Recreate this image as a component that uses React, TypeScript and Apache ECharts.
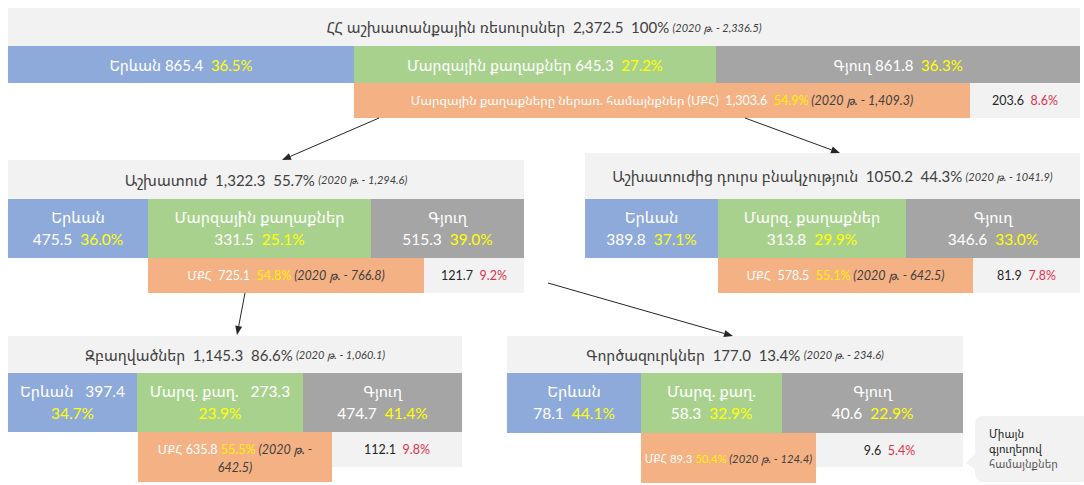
import React, { useEffect, useRef } from "react";
import * as echarts from "echarts";

// ---------- DATA ----------
const groupNames = [
  "ՀՀ աշխատանքային ռեսուրսներ",
  "Աշխատուժ",
  "Աշխատուժից դուրս բնակչություն",
  "Զբաղվածներ",
  "Գործազուրկներ",
];
const totals = [2372.5, 1322.3, 1050.2, 1145.3, 177.0];
const totalShares = [100, 55.7, 44.3, 86.6, 13.4];
const totals2020 = [2336.5, 1294.6, 1041.9, 1060.1, 234.6];
const useThousandsSep = [true, true, false, true, true];

const yerevanLabels = ["Երևան", "Երևան", "Երևան", "Երևան", "Երևան"];
const yerevan = [865.4, 475.5, 389.8, 397.4, 78.1];
const yerevanShare = [36.5, 36.0, 37.1, 34.7, 44.1];

const townLabels = ["Մարզային քաղաքներ", "Մարզային քաղաքներ", "Մարզ. քաղաքներ", "Մարզ. քաղ.", "Մարզ. քաղ."];
const towns = [645.3, 331.5, 313.8, 273.3, 58.3];
const townsShare = [27.2, 25.1, 29.9, 23.9, 32.9];

const villageLabels = ["Գյուղ", "Գյուղ", "Գյուղ", "Գյուղ", "Գյուղ"];
const villages = [861.8, 515.3, 346.6, 474.7, 40.6];
const villagesShare = [36.3, 39.0, 33.0, 41.4, 22.9];

const ubcLabels = ["Մարզային քաղաքները ներառ. համայնքներ (ՄՔՀ)", "ՄՔՀ", "ՄՔՀ", "ՄՔՀ", "ՄՔՀ"];
const ubc = [1303.6, 725.1, 578.5, 635.8, 89.3];
const ubcShare = [54.9, 54.8, 55.1, 55.5, 50.4];
const ubc2020 = [1409.3, 766.8, 642.5, 642.5, 124.4];

const villageOnly = [203.6, 121.7, 81.9, 112.1, 9.6];
const villageOnlyShare = [8.6, 9.2, 7.8, 9.8, 5.4];

const yearLabel = "2020 թ.";
const calloutLines = ["Միայն", "գյուղերով", "համայնքներ"];

// ---------- LAYOUT (positions / styles only) ----------
type Panel = {
  hx: number; hy: number; hw: number; hh: number;
  rowY: number; rowH: number; cuts: number[];
  ox: number; oy: number; ow: number; oh: number;
  gw: number; gh: number;
  seg: "line" | "stack" | "mixed";
  headFs: number; segFs: number; ubcFs: number; ubcGap: string; wrapUbc?: boolean;
};
const panels: Panel[] = [
  { hx: 8, hy: 8, hw: 1072, hh: 38, rowY: 46, rowH: 37, cuts: [8, 354, 716, 1080], ox: 354, oy: 83, ow: 616, oh: 35, gw: 110, gh: 35, seg: "line", headFs: 15, segFs: 15, ubcFs: 12.5, ubcGap: "  " },
  { hx: 8, hy: 160, hw: 516, hh: 39, rowY: 199, rowH: 59, cuts: [8, 148, 371, 524], ox: 148, oy: 258, ow: 276, oh: 35, gw: 100, gh: 35, seg: "stack", headFs: 15, segFs: 15.5, ubcFs: 12.5, ubcGap: "  " },
  { hx: 585, hy: 153, hw: 495, hh: 46, rowY: 199, rowH: 59, cuts: [585, 718, 906, 1080], ox: 718, oy: 258, ow: 255, oh: 35, gw: 107, gh: 35, seg: "stack", headFs: 15, segFs: 15.5, ubcFs: 12.5, ubcGap: "  " },
  { hx: 8, hy: 336, hw: 454, hh: 37, rowY: 373, rowH: 59, cuts: [8, 137, 303, 462], ox: 138, oy: 432, ow: 194, oh: 50, gw: 130, gh: 35, seg: "mixed", headFs: 15, segFs: 15.5, ubcFs: 12.5, ubcGap: " ", wrapUbc: true },
  { hx: 507, hy: 336, hw: 456, hh: 37, rowY: 373, rowH: 60, cuts: [507, 641, 782, 963], ox: 641, oy: 433, ow: 175, oh: 50, gw: 147, gh: 34, seg: "stack", headFs: 15, segFs: 15.5, ubcFs: 11.3, ubcGap: " " },
];
const arrows = [
  [379, 118, 282, 160],
  [745, 118, 840, 153],
  [245, 293, 237, 335],
  [548, 283, 733, 336],
];

const FONT = 'Lato, "Noto Sans Armenian", "DejaVu Sans", sans-serif';
const C = {
  blue: "#8eaadb",
  green: "#a9d18e",
  gray: "#a5a5a5",
  orange: "#f4b183",
  light: "#f2f2f2",
  dark: "#404040",
  yellow: "#ffff00",
  gold: "#fff000",
  red: "#e0314b",
};

function num(v: number, sep: boolean) {
  const s = v.toFixed(1);
  if (!sep) return s;
  const [i, d] = s.split(".");
  return i.replace(/\B(?=(\d{3})+(?!\d))/g, ",") + "." + d;
}
function pct(v: number) {
  return (v === 100 ? "100" : v.toFixed(1)) + "%";
}

function buildGraphics() {
  const els: any[] = [];
  const richBase = (fs: number) => ({
    w: { fill: "#ffffff", fontSize: fs, fontFamily: FONT },
    y: { fill: C.yellow, fontSize: fs, fontFamily: FONT },
  });

  panels.forEach((p, i) => {
    const sep = useThousandsSep[i];
    // header
    els.push({ type: "rect", shape: { x: p.hx, y: p.hy, width: p.hw, height: p.hh }, style: { fill: C.light } });
    els.push({
      type: "text",
      x: p.hx + p.hw / 2,
      y: p.hy + p.hh / 2,
      style: {
        text: `{n|${groupNames[i]}  ${num(totals[i], sep)}  ${pct(totalShares[i])}} {i|(${yearLabel} - ${num(totals2020[i], sep)})}`,
        align: "center",
        verticalAlign: "middle",
        rich: {
          n: { fill: C.dark, fontSize: p.headFs, fontFamily: FONT },
          i: { fill: C.dark, fontSize: 11, fontStyle: "italic", fontFamily: FONT },
        },
      },
    });
    // segments
    const segs = [
      { label: yerevanLabels[i], v: yerevan[i], s: yerevanShare[i], color: C.blue },
      { label: townLabels[i], v: towns[i], s: townsShare[i], color: C.green },
      { label: villageLabels[i], v: villages[i], s: villagesShare[i], color: C.gray },
    ];
    segs.forEach((sg, k) => {
      const x0 = p.cuts[k];
      const x1 = p.cuts[k + 1];
      els.push({ type: "rect", shape: { x: x0, y: p.rowY, width: x1 - x0, height: p.rowH }, style: { fill: sg.color } });
      let text: string;
      if (p.seg === "line") {
        text = `{w|${sg.label} ${num(sg.v, sep)}  }{y|${pct(sg.s)}}`;
      } else if (p.seg === "mixed" && k < 2) {
        text = `{w|${sg.label}   ${num(sg.v, sep)}}\n{y|${pct(sg.s)}}`;
      } else {
        text = `{w|${sg.label}}\n{w|${num(sg.v, sep)}  }{y|${pct(sg.s)}}`;
      }
      const rich: any = richBase(p.segFs);
      if (p.seg !== "line") {
        rich.w.lineHeight = 22;
        rich.y.lineHeight = 22;
      }
      els.push({
        type: "text",
        x: (x0 + x1) / 2,
        y: p.rowY + p.rowH / 2 + (p.seg === "line" ? 0 : -1),
        style: { text, align: "center", verticalAlign: "middle", rich },
      });
    });
    // ubc (orange)
    els.push({ type: "rect", shape: { x: p.ox, y: p.oy, width: p.ow, height: p.oh }, style: { fill: C.orange } });
    const g = p.ubcGap;
    const ubcText = p.wrapUbc
      ? `{w|${ubcLabels[i]}${g}${num(ubc[i], sep)}${g}}{y|${pct(ubcShare[i])}}{i| (${yearLabel} -}\n{i|${num(ubc2020[i], sep)})}`
      : `{w|${ubcLabels[i]}${g}${num(ubc[i], sep)}${g}}{y|${pct(ubcShare[i])}}{i| (${yearLabel} - ${num(ubc2020[i], sep)})}`;
    els.push({
      type: "text",
      x: p.ox + p.ow / 2,
      y: p.wrapUbc ? p.oy + 26 : p.oy + p.oh / 2,
      style: {
        text: ubcText,
        align: "center",
        verticalAlign: "middle",
        rich: {
          w: { fill: "#ffffff", fontSize: p.ubcFs, fontFamily: FONT, lineHeight: 18 },
          y: { fill: C.gold, fontSize: p.ubcFs, fontFamily: FONT, lineHeight: 18 },
          i: { fill: C.dark, fontSize: p.ubcFs, fontStyle: "italic", fontFamily: FONT, lineHeight: 18 },
        },
      },
    });
    // village-only (light gray)
    const gx = p.ox + p.ow;
    els.push({ type: "rect", shape: { x: gx, y: p.oy, width: p.gw, height: p.gh }, style: { fill: C.light } });
    els.push({
      type: "text",
      x: gx + p.gw / 2,
      y: p.oy + p.gh / 2,
      style: {
        text: `{k|${num(villageOnly[i], sep)}}  {r|${pct(villageOnlyShare[i])}}`,
        align: "center",
        verticalAlign: "middle",
        rich: {
          k: { fill: "#262626", fontSize: 12.5, fontFamily: FONT },
          r: { fill: C.red, fontSize: 12.5, fontFamily: FONT },
        },
      },
    });
  });

  // arrows
  arrows.forEach(([x1, y1, x2, y2]) => {
    const ang = Math.atan2(y2 - y1, x2 - x1);
    const L = 9, W = 3.5;
    const bx = x2 - L * Math.cos(ang);
    const by = y2 - L * Math.sin(ang);
    els.push({ type: "line", shape: { x1, y1, x2: bx, y2: by }, style: { stroke: "#262626", lineWidth: 1 } });
    els.push({
      type: "polygon",
      shape: {
        points: [
          [x2, y2],
          [bx + W * Math.sin(ang), by - W * Math.cos(ang)],
          [bx - W * Math.sin(ang), by + W * Math.cos(ang)],
        ],
      },
      style: { fill: "#262626" },
    });
  });

  // callout
  els.push({ type: "rect", shape: { x: 975, y: 416, width: 115, height: 66, r: 8 }, style: { fill: C.light } });
  els.push({ type: "polygon", shape: { points: [[976, 453], [966, 463], [976, 470]] }, style: { fill: C.light } });
  calloutLines.forEach((t, k) => {
    els.push({
      type: "text",
      x: 989,
      y: 433 + k * 15,
      style: {
        text: t,
        x: 0,
        y: 0,
        align: "left",
        verticalAlign: "middle",
        fill: k < 2 ? "#262626" : "#595959",
        fontSize: 11,
        fontFamily: FONT,
      },
    });
  });
  return els;
}

export default function App() {
  const ref = useRef<HTMLDivElement>(null);
  useEffect(() => {
    document.body.style.margin = "0";
    const chart = echarts.init(ref.current!, undefined, { renderer: "svg" });
    chart.setOption({
      animation: false,
      backgroundColor: "#ffffff",
      graphic: { elements: buildGraphics() },
    });
    return () => chart.dispose();
  }, []);
  return <div ref={ref} style={{ width: 1084, height: 485 }} />;
}
